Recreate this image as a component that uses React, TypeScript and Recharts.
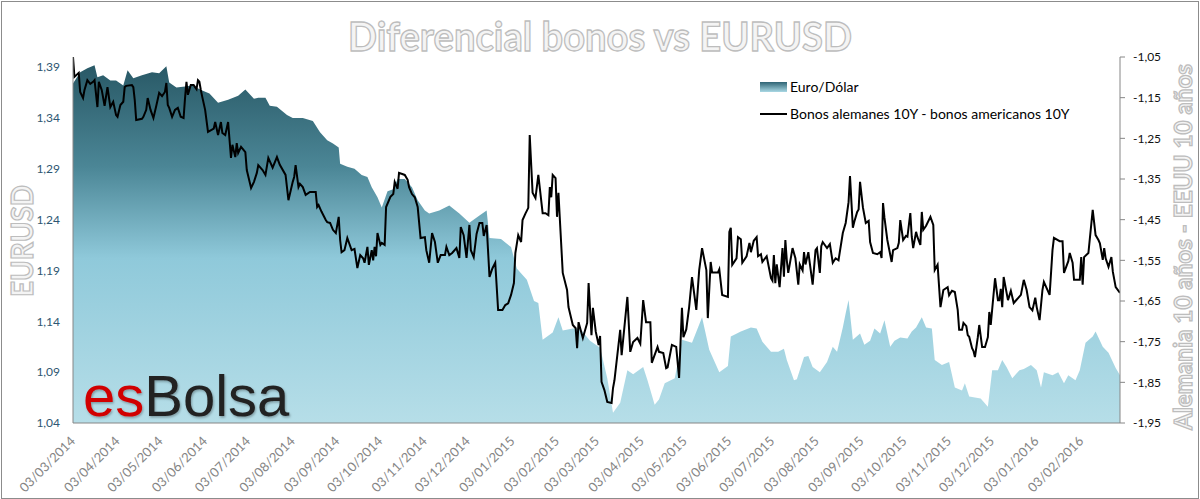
import { Area, ComposedChart, Line, XAxis, YAxis } from "recharts";

const W = 1200;
const H = 499;

// eje de fechas: días desde el 03/03/2014
const INICIO = Date.UTC(2014, 2, 3);
const DIA = 86400000;
const FIN_DIAS = 729;

// Euro/Dólar (eje izquierdo)
const diasEur = [
  0, 5, 10, 15, 17, 21, 26, 30, 35, 38,
  42, 48, 55, 60, 65, 67, 72, 78, 83, 90,
  95, 101, 108, 115, 120, 126, 129, 134, 137, 142,
  149, 153, 160, 167, 172, 177, 181, 185, 186, 191,
  196, 201, 205, 208, 212, 215, 219, 223, 226, 231,
  236, 240, 245, 248, 255, 262, 269, 276, 283, 288,
  290, 298, 305, 309, 316, 321, 324, 327, 334, 338,
  341, 348, 353, 360, 367, 372, 376, 381, 386, 390,
  397, 400, 405, 408, 412, 419, 424, 431, 438, 443,
  450, 456, 458, 465, 472, 476, 480, 486, 491, 495,
  497, 502, 504, 509, 512, 515, 520, 525, 529, 532,
  536, 538, 540, 543, 548, 551, 555, 558, 562, 565,
  569, 572, 576, 581, 584, 587, 591, 594, 598, 600,
  605, 610, 614, 619, 621, 624, 628, 632, 637, 640,
  644, 647, 650, 654, 659, 662, 667, 671, 674, 676,
  682, 686, 690, 693, 698, 701, 705, 710, 712, 717,
  721, 726, 729,
];
const eurusd = [
  1.374, 1.385, 1.389, 1.392, 1.38, 1.382, 1.377, 1.377, 1.372, 1.387,
  1.379, 1.382, 1.385, 1.384, 1.391, 1.375, 1.37, 1.371, 1.372, 1.367,
  1.364, 1.355, 1.358, 1.362, 1.368, 1.359, 1.36, 1.36, 1.352, 1.351,
  1.343, 1.34, 1.34, 1.337, 1.326, 1.318, 1.315, 1.311, 1.295, 1.292,
  1.29, 1.284, 1.282, 1.272, 1.262, 1.252, 1.268, 1.27, 1.28, 1.28,
  1.272, 1.259, 1.249, 1.246, 1.249, 1.254, 1.246, 1.237, 1.244, 1.249,
  1.222, 1.221, 1.213, 1.192, 1.181, 1.16, 1.158, 1.122, 1.129, 1.144,
  1.131, 1.133, 1.133, 1.121, 1.114, 1.084, 1.05, 1.06, 1.092, 1.088,
  1.095, 1.082, 1.058, 1.063, 1.079, 1.084, 1.122, 1.119, 1.144, 1.112,
  1.09, 1.096, 1.125, 1.13, 1.134, 1.133, 1.12, 1.11, 1.11, 1.113,
  1.102, 1.082, 1.083, 1.105, 1.106, 1.095, 1.09, 1.1, 1.115, 1.11,
  1.134, 1.148, 1.161, 1.122, 1.128, 1.117, 1.121, 1.133, 1.128, 1.141,
  1.115, 1.121, 1.124, 1.123, 1.13, 1.134, 1.144, 1.134, 1.133, 1.102,
  1.097, 1.1, 1.075, 1.072, 1.079, 1.066, 1.065, 1.064, 1.056, 1.092,
  1.092, 1.102, 1.095, 1.084, 1.092, 1.093, 1.097, 1.092, 1.075, 1.09,
  1.087, 1.09, 1.079, 1.087, 1.082, 1.092, 1.119, 1.125, 1.13, 1.115,
  1.109, 1.094, 1.087,
];

// Bonos alemanes 10Y - bonos americanos 10Y (eje derecho)
const diasDif = [
  0, 1, 4, 5, 7, 8, 10, 12, 14, 15,
  17, 18, 20, 22, 24, 26, 28, 30, 31, 33,
  35, 36, 37, 41, 42, 43, 44, 48, 49, 51,
  52, 54, 56, 58, 60, 62, 64, 65, 66, 67,
  69, 71, 73, 75, 77, 78, 79, 80, 82, 84,
  86, 87, 88, 89, 90, 92, 94, 98, 99, 101,
  103, 104, 106, 108, 109, 110, 111, 113, 114, 115,
  117, 120, 121, 124, 126, 128, 129, 132, 134, 136,
  139, 142, 144, 148, 150, 153, 154, 155, 157, 158,
  160, 162, 165, 169, 170, 171, 173, 176, 177, 179,
  181, 183, 185, 186, 187, 189, 191, 194, 196, 198,
  200, 202, 203, 205, 206, 208, 209, 210, 211, 212,
  214, 215, 217, 218, 221, 223, 224, 226, 227, 231,
  233, 234, 236, 238, 240, 242, 245, 246, 248, 250,
  252, 254, 256, 259, 260, 262, 264, 267, 269, 270,
  272, 274, 276, 277, 279, 281, 283, 285, 286, 288,
  290, 292, 294, 296, 299, 301, 303, 305, 307, 308,
  310, 312, 313, 315, 317, 318, 320, 322, 324, 327,
  329, 331, 332, 333, 334, 336, 337, 338, 341, 344,
  345, 348, 350, 351, 352, 355, 358, 359, 361, 362,
  364, 366, 367, 368, 370, 372, 375, 376, 377, 381,
  382, 386, 388, 390, 393, 395, 397, 399, 402, 403,
  407, 408, 411, 413, 414, 417, 420, 422, 424, 425,
  427, 429, 431, 434, 436, 438, 441, 442, 444, 445,
  449, 450, 452, 456, 457, 458, 459, 462, 463, 465,
  466, 469, 471, 472, 474, 476, 477, 479, 480, 483,
  486, 487, 488, 489, 490, 492, 494, 495, 496, 497,
  498, 501, 503, 505, 506, 508, 509, 510, 512, 515,
  517, 518, 520, 521, 522, 525, 527, 529, 531, 533,
  536, 538, 540, 541, 543, 544, 546, 547, 548, 550,
  552, 554, 555, 557, 560, 562, 563, 564, 565, 567,
  570, 571, 574, 575, 576, 578, 580, 581, 583, 584,
  585, 587, 588, 590, 591, 592, 594, 597, 599, 600,
  602, 604, 606, 609, 610, 612, 614, 616, 617, 619,
  620, 622, 623, 624, 626, 627, 628, 630, 631, 633,
  635, 637, 638, 639, 642, 644, 645, 646, 647, 648,
  651, 653, 655, 657, 660, 662, 664, 666, 668, 670,
  671, 673, 675, 676, 680, 682, 683, 687, 689, 690,
  693, 694, 696, 697, 701, 702, 703, 704, 707, 710,
  712, 714, 715, 717, 718, 719, 721, 723, 724, 726,
  729,
];
const diferencial = [
  -1.05, -1.099, -1.089, -1.136, -1.151, -1.131, -1.107, -1.116, -1.111, -1.107,
  -1.173, -1.111, -1.131, -1.17, -1.124, -1.173, -1.16, -1.193, -1.197, -1.168,
  -1.16, -1.124, -1.121, -1.119, -1.124, -1.156, -1.205, -1.202, -1.197, -1.18,
  -1.151, -1.18, -1.2, -1.17, -1.138, -1.146, -1.136, -1.114, -1.168, -1.175,
  -1.197, -1.18, -1.175, -1.197, -1.2, -1.151, -1.111, -1.143, -1.119, -1.119,
  -1.129, -1.107, -1.111, -1.131, -1.148, -1.18, -1.234, -1.226, -1.21, -1.242,
  -1.21, -1.237, -1.242, -1.21, -1.254, -1.298, -1.266, -1.296, -1.262, -1.286,
  -1.271, -1.284, -1.328, -1.372, -1.357, -1.335, -1.316, -1.328, -1.34, -1.298,
  -1.322, -1.296, -1.315, -1.34, -1.402, -1.357, -1.345, -1.316, -1.37, -1.362,
  -1.37, -1.389, -1.382, -1.382, -1.419, -1.414, -1.43, -1.451, -1.456, -1.458,
  -1.475, -1.483, -1.443, -1.5, -1.53, -1.525, -1.495, -1.525, -1.522, -1.569,
  -1.537, -1.545, -1.556, -1.517, -1.561, -1.525, -1.55, -1.517, -1.54, -1.483,
  -1.512, -1.507, -1.512, -1.419, -1.394, -1.387, -1.357, -1.374, -1.335, -1.34,
  -1.352, -1.37, -1.387, -1.395, -1.419, -1.495, -1.493, -1.525, -1.556, -1.483,
  -1.505, -1.556, -1.537, -1.537, -1.517, -1.537, -1.532, -1.52, -1.544, -1.468,
  -1.488, -1.544, -1.463, -1.525, -1.542, -1.485, -1.458, -1.458, -1.49, -1.463,
  -1.591, -1.57, -1.556, -1.672, -1.672, -1.66, -1.656, -1.635, -1.606, -1.532,
  -1.488, -1.505, -1.451, -1.435, -1.421, -1.242, -1.384, -1.397, -1.34, -1.434,
  -1.434, -1.439, -1.37, -1.395, -1.34, -1.348, -1.443, -1.384, -1.581, -1.623,
  -1.665, -1.709, -1.717, -1.766, -1.702, -1.741, -1.704, -1.606, -1.734, -1.667,
  -1.726, -1.758, -1.736, -1.849, -1.869, -1.898, -1.901, -1.864, -1.845, -1.721,
  -1.783, -1.64, -1.775, -1.751, -1.741, -1.755, -1.648, -1.702, -1.702, -1.802,
  -1.763, -1.775, -1.778, -1.815, -1.813, -1.758, -1.763, -1.839, -1.667, -1.739,
  -1.72, -1.665, -1.591, -1.672, -1.574, -1.52, -1.574, -1.692, -1.554, -1.58,
  -1.58, -1.572, -1.635, -1.64, -1.48, -1.47, -1.561, -1.545, -1.493, -1.498,
  -1.556, -1.54, -1.507, -1.53, -1.502, -1.493, -1.54, -1.535, -1.554, -1.54,
  -1.594, -1.6, -1.537, -1.606, -1.56, -1.616, -1.52, -1.59, -1.5, -1.55,
  -1.581, -1.52, -1.545, -1.61, -1.56, -1.575, -1.53, -1.56, -1.53, -1.61,
  -1.525, -1.52, -1.581, -1.515, -1.505, -1.52, -1.51, -1.556, -1.545, -1.55,
  -1.483, -1.458, -1.407, -1.343, -1.47, -1.455, -1.431, -1.425, -1.357, -1.42,
  -1.458, -1.453, -1.505, -1.532, -1.535, -1.53, -1.544, -1.409, -1.445, -1.5,
  -1.554, -1.525, -1.52, -1.507, -1.451, -1.5, -1.49, -1.492, -1.434, -1.492,
  -1.52, -1.48, -1.493, -1.512, -1.431, -1.475, -1.465, -1.443, -1.463, -1.574,
  -1.561, -1.665, -1.623, -1.616, -1.636, -1.625, -1.628, -1.672, -1.721, -1.721,
  -1.704, -1.712, -1.734, -1.738, -1.766, -1.773, -1.788, -1.739, -1.709, -1.763,
  -1.763, -1.739, -1.677, -1.709, -1.594, -1.648, -1.648, -1.62, -1.665, -1.591,
  -1.648, -1.625, -1.655, -1.647, -1.635, -1.598, -1.623, -1.665, -1.673, -1.642,
  -1.665, -1.697, -1.623, -1.603, -1.635, -1.525, -1.495, -1.503, -1.503, -1.581,
  -1.552, -1.532, -1.556, -1.598, -1.598, -1.542, -1.61, -1.542, -1.532, -1.426,
  -1.488, -1.5, -1.508, -1.549, -1.52, -1.545, -1.566, -1.542, -1.578, -1.616,
  -1.63,
];

const ticksEur = [1.04, 1.09, 1.14, 1.19, 1.24, 1.29, 1.34, 1.39];
const ticksDif = [-1.95, -1.85, -1.75, -1.65, -1.55, -1.45, -1.35, -1.25, -1.15, -1.05];
// una etiqueta el día 3 de cada mes, de mar-2014 a feb-2016
const ticksFecha = Array.from({ length: 24 }, (_, i) => (Date.UTC(2014, 2 + i, 3) - INICIO) / DIA);

const serieEur = diasEur.map((d, i) => ({ d, v: eurusd[i] }));
const serieDif = diasDif.map((d, i) => ({ d, v: diferencial[i] }));

const FUENTE = "Lato, 'Liberation Sans', sans-serif";

const coma = (v: number) => v.toFixed(2).replace(".", ",");

function fechaTexto(dia: number) {
  const f = new Date(INICIO + dia * DIA);
  const dd = String(f.getUTCDate()).padStart(2, "0");
  const mm = String(f.getUTCMonth() + 1).padStart(2, "0");
  return `${dd}/${mm}/${f.getUTCFullYear()}`;
}

function TickFecha(props: any) {
  const { x, y, payload } = props;
  const ax = x + 3;
  const ay = y + 19;
  return (
    <text x={ax} y={ay} transform={`rotate(-45 ${ax} ${ay})`} textAnchor="end"
          fill="#858585" fontSize={13} fontFamily={FUENTE}>
      {fechaTexto(payload.value)}
    </text>
  );
}

const relieve = { fill: "#f4f4f4", stroke: "#bdbdbd", strokeWidth: 1.3, fontWeight: 700, fontFamily: FUENTE };

export default function App() {
  return (
    <div style={{ position: "absolute", left: 0, top: 0, width: W, height: H, background: "#fff" }}>
      <ComposedChart width={W} height={H} margin={{ top: 57, right: 0, bottom: 0, left: 0 }}>
        <defs>
          <linearGradient id="gradEur" gradientUnits="userSpaceOnUse" x1="0" y1="57" x2="0" y2="423">
            <stop offset="0%" stopColor="#265562" />
            <stop offset="30%" stopColor="#4b8696" />
            <stop offset="55%" stopColor="#8fc9da" />
            <stop offset="100%" stopColor="#b6dee8" />
          </linearGradient>
        </defs>
        <XAxis type="number" dataKey="d" domain={[0, FIN_DIAS]} ticks={ticksFecha} interval={0}
               tick={<TickFecha />} tickLine={false} tickSize={0} tickMargin={0}
               axisLine={{ stroke: "#868686" }} height={76} allowDataOverflow />
        <YAxis yAxisId="eur" orientation="left" domain={[1.04, 1.4]} ticks={ticksEur} interval={0}
               width={73} tickFormatter={coma} tickLine={false} tickSize={0} tickMargin={13}
               axisLine={{ stroke: "#868686" }} allowDataOverflow
               tick={{ fill: "#2f5773", fontSize: 12, fontFamily: FUENTE }} />
        <YAxis yAxisId="dif" orientation="right" domain={[-1.95, -1.05]} ticks={ticksDif} interval={0}
               width={80} tickFormatter={coma} tickSize={5} tickMargin={8}
               tickLine={{ stroke: "#868686" }} axisLine={{ stroke: "#868686" }} allowDataOverflow
               tick={{ fill: "#111", fontSize: 12, fontFamily: FUENTE }} />
        <Area yAxisId="eur" data={serieEur} dataKey="v" type="linear" stroke="none"
              fill="url(#gradEur)" fillOpacity={1} baseValue="dataMin"
              dot={false} activeDot={false} isAnimationActive={false} />
        <Line yAxisId="dif" data={serieDif} dataKey="v" type="linear" stroke="#000" strokeWidth={2}
              dot={false} activeDot={false} isAnimationActive={false} />
      </ComposedChart>

      <svg width={W} height={H} style={{ position: "absolute", left: 0, top: 0, pointerEvents: "none" }}>
        <defs>
          <linearGradient id="gradLeyenda" x1="0" y1="0" x2="0" y2="1">
            <stop offset="0%" stopColor="#2f6474" />
            <stop offset="100%" stopColor="#a9d8e4" />
          </linearGradient>
          <filter id="sombra" x="-5%" y="-5%" width="110%" height="120%">
            <feDropShadow dx="1" dy="1.5" stdDeviation="1" floodColor="#000" floodOpacity="0.3" />
          </filter>
        </defs>

        <text x={600} y={51} textAnchor="middle" fontSize={40} textLength={504}
              lengthAdjust="spacingAndGlyphs" {...relieve}>
          Diferencial bonos vs EURUSD
        </text>
        <text transform="translate(33 241) rotate(-90)" textAnchor="middle" fontSize={31}
              textLength={112} lengthAdjust="spacingAndGlyphs" {...relieve}>
          EURUSD
        </text>
        <text transform="translate(1192 247) rotate(-90)" textAnchor="middle" fontSize={25}
              textLength={366} lengthAdjust="spacingAndGlyphs" {...relieve}>
          Alemania 10 años - EEUU 10 años
        </text>

        <rect x={760} y={82} width={27} height={10} fill="url(#gradLeyenda)" />
        <text x={790} y={92} fontSize={14} fill="#000" fontFamily={FUENTE}>Euro/Dólar</text>
        <line x1={760} x2={787} y1={114} y2={114} stroke="#000" strokeWidth={2} />
        <text x={790} y={119} fontSize={14} fill="#000" fontFamily={FUENTE}>
          Bonos alemanes 10Y - bonos americanos 10Y
        </text>

        <text x={83} y={416} fontSize={58} fontFamily="'Liberation Sans', Arial, sans-serif" filter="url(#sombra)">
          <tspan fill="#d10000">es</tspan>
          <tspan fill="#222222">Bolsa</tspan>
        </text>
      </svg>

      <div style={{ position: "absolute", left: 1, top: 1, width: 1198, height: 498,
                    border: "1px solid #8c8c8c", boxSizing: "border-box", pointerEvents: "none" }} />
    </div>
  );
}
